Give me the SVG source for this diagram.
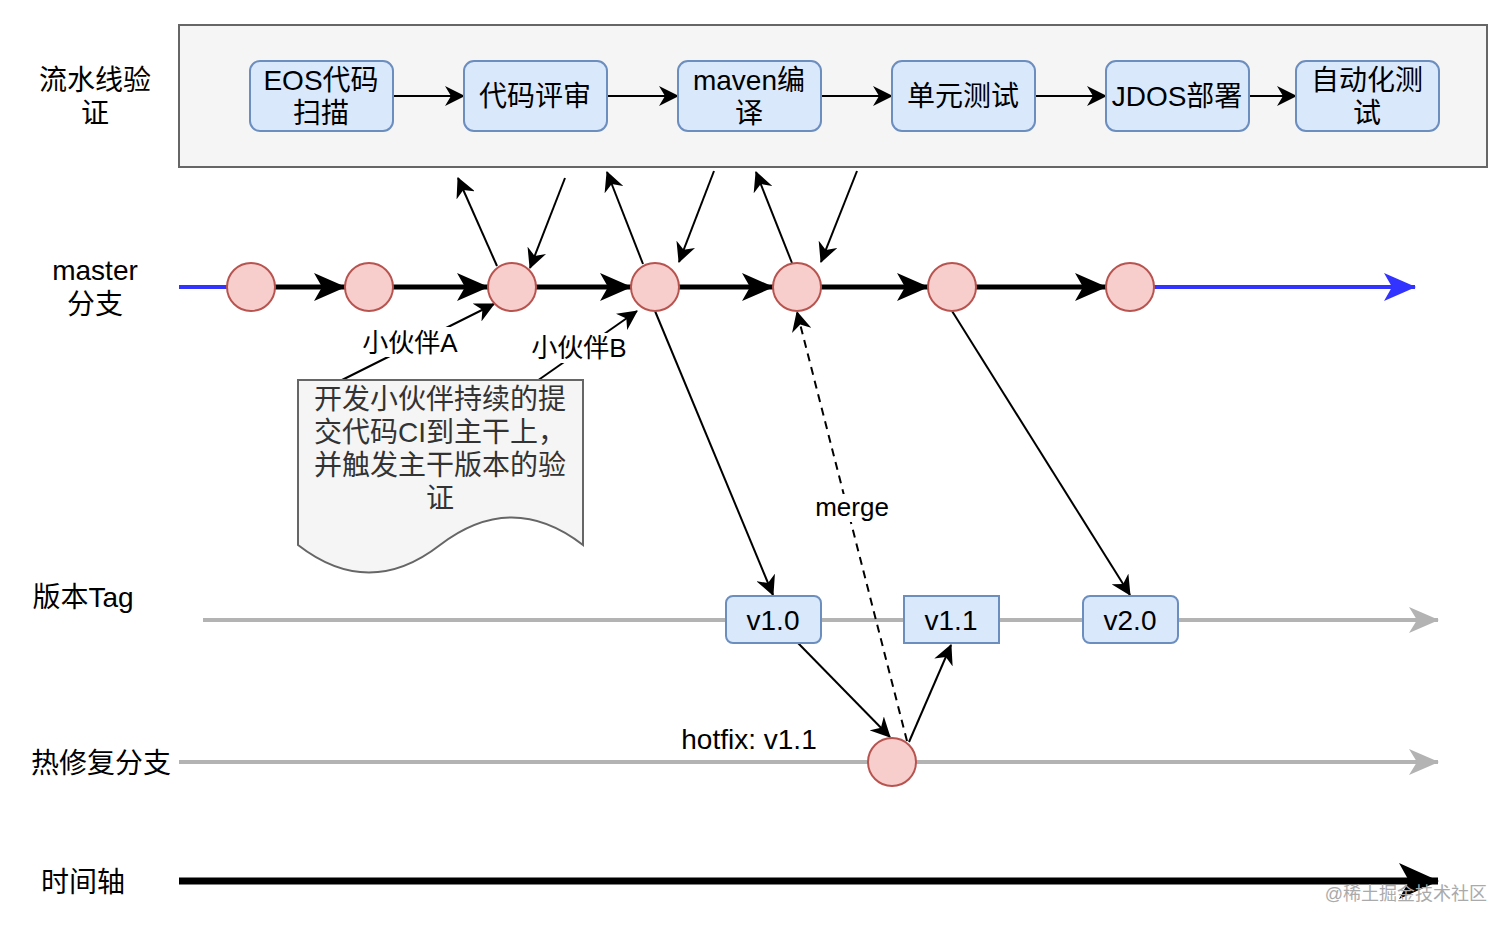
<svg xmlns="http://www.w3.org/2000/svg" width="1512" height="930" viewBox="0 0 1512 930">
<style>
text{font-family:"Liberation Sans","Noto Sans CJK SC",sans-serif;fill:#000;}
.lbl{font-size:28px;text-anchor:middle;}
.box{fill:#dae8fc;stroke:#6c8ebf;stroke-width:2;}
.bt{font-size:28px;text-anchor:middle;}
.commit{fill:#f8cecc;stroke:#b85450;stroke-width:2;}
.thin{stroke:#000;stroke-width:2;fill:none;}
.thick{stroke:#000;stroke-width:5;fill:none;}
.gray{stroke:#b3b3b3;stroke-width:4;fill:none;}
.small{font-size:26px;text-anchor:middle;}
</style>
<defs>
<marker id="a" markerUnits="userSpaceOnUse" viewBox="0 0 20 20" markerWidth="20" markerHeight="20" refX="19" refY="10" orient="auto"><path d="M0,0 L20,10 L0,20 L6,10 z" fill="#000"/></marker>
<marker id="ab" markerUnits="userSpaceOnUse" viewBox="0 0 32 28" markerWidth="32" markerHeight="28" refX="31" refY="14" orient="auto"><path d="M0,0 L32,14 L0,28 L8,14 z" fill="#000"/></marker>
<marker id="abl" markerUnits="userSpaceOnUse" viewBox="0 0 32 28" markerWidth="32" markerHeight="28" refX="31" refY="14" orient="auto"><path d="M0,0 L32,14 L0,28 L8,14 z" fill="#3333ff"/></marker>
<marker id="ag" markerUnits="userSpaceOnUse" viewBox="0 0 30 26" markerWidth="30" markerHeight="26" refX="29" refY="13" orient="auto"><path d="M0,0 L30,13 L0,26 L8,13 z" fill="#b3b3b3"/></marker>
<marker id="at" markerUnits="userSpaceOnUse" viewBox="0 0 40 36" markerWidth="40" markerHeight="36" refX="39" refY="18" orient="auto"><path d="M0,0 L40,18 L0,36 L10,18 z" fill="#000"/></marker>
</defs>

<rect x="0" y="0" width="1512" height="930" fill="#fff"/>

<!-- left labels -->
<g id="labels">
<text class="lbl" x="95" y="90">流水线验</text>
<text class="lbl" x="95" y="123">证</text>
<text class="lbl" x="95" y="280">master</text>
<text class="lbl" x="95" y="314">分支</text>
<text class="lbl" x="83" y="607">版本Tag</text>
<text class="lbl" x="101" y="773">热修复分支</text>
<text class="lbl" x="83" y="892">时间轴</text>
</g>

<!-- pipeline container -->
<g id="pipeline">
<rect x="179" y="25" width="1308" height="142" fill="#f5f5f5" stroke="#666" stroke-width="2"/>
</g>

<g id="connectors">
<!-- pipeline arrows -->
<line class="thin" x1="393" y1="96" x2="464" y2="96" marker-end="url(#a)"/>
<line class="thin" x1="607" y1="96" x2="678" y2="96" marker-end="url(#a)"/>
<line class="thin" x1="821" y1="96" x2="892" y2="96" marker-end="url(#a)"/>
<line class="thin" x1="1035" y1="96" x2="1106" y2="96" marker-end="url(#a)"/>
<line class="thin" x1="1249" y1="96" x2="1296" y2="96" marker-end="url(#a)"/>

<!-- master line -->
<line x1="179" y1="287" x2="227" y2="287" stroke="#3333ff" stroke-width="4"/>
<line class="thick" x1="275" y1="287" x2="345" y2="287" marker-end="url(#ab)"/>
<line class="thick" x1="393" y1="287" x2="488" y2="287" marker-end="url(#ab)"/>
<line class="thick" x1="536" y1="287" x2="631" y2="287" marker-end="url(#ab)"/>
<line class="thick" x1="679" y1="287" x2="773" y2="287" marker-end="url(#ab)"/>
<line class="thick" x1="821" y1="287" x2="928" y2="287" marker-end="url(#ab)"/>
<line class="thick" x1="976" y1="287" x2="1106" y2="287" marker-end="url(#ab)"/>
<line x1="1154" y1="287" x2="1415" y2="287" stroke="#3333ff" stroke-width="4" marker-end="url(#abl)"/>

<!-- pipeline trigger arrows -->
<line class="thin" x1="497" y1="266" x2="458" y2="178" marker-end="url(#a)"/>
<line class="thin" x1="565" y1="178" x2="530" y2="268" marker-end="url(#a)"/>
<line class="thin" x1="643" y1="264" x2="607" y2="172" marker-end="url(#a)"/>
<line class="thin" x1="714" y1="171" x2="679" y2="262" marker-end="url(#a)"/>
<line class="thin" x1="792" y1="263" x2="756" y2="172" marker-end="url(#a)"/>
<line class="thin" x1="857" y1="171" x2="821" y2="262" marker-end="url(#a)"/>

<!-- developer commits -->
<line class="thin" x1="340" y1="381" x2="494" y2="304" marker-end="url(#a)"/>
<line class="thin" x1="537" y1="381" x2="637" y2="311" marker-end="url(#a)"/>

<!-- release tags -->
<line class="thin" x1="655" y1="311" x2="773" y2="595" marker-end="url(#a)"/>
<line class="thin" x1="952" y1="311" x2="1130" y2="595" marker-end="url(#a)"/>

<!-- tag line / hotfix line -->
<line class="gray" x1="203" y1="620" x2="1438" y2="620" marker-end="url(#ag)"/>
<line class="gray" x1="179" y1="762" x2="1438" y2="762" marker-end="url(#ag)"/>

<!-- hotfix arrows -->
<line class="thin" x1="798" y1="643" x2="890" y2="737" marker-end="url(#a)"/>
<line class="thin" x1="909" y1="742" x2="951" y2="645" marker-end="url(#a)"/>
<line class="thin" x1="907" y1="741" x2="797" y2="312" stroke-dasharray="8,6" marker-end="url(#a)"/>

<!-- time axis -->
<line x1="179" y1="881" x2="1438" y2="881" stroke="#000" stroke-width="7" marker-end="url(#at)"/>

<!-- edge labels -->
<rect x="360" y="327" width="100" height="30" fill="#fff"/>
<text class="small" x="410" y="352">小伙伴A</text>
<rect x="529" y="333" width="100" height="30" fill="#fff"/>
<text class="small" x="579" y="357">小伙伴B</text>
<rect x="814" y="494" width="77" height="28" fill="#fff"/>
<text class="small" x="852" y="516">merge</text>
</g>

<!-- pipeline nodes -->
<g id="eos"><rect class="box" x="250" y="61" width="143" height="70" rx="10"/><text class="bt" x="321" y="90">EOS代码</text><text class="bt" x="321" y="123">扫描</text></g>
<g id="review"><rect class="box" x="464" y="61" width="143" height="70" rx="10"/><text class="bt" x="535" y="106">代码评审</text></g>
<g id="maven"><rect class="box" x="678" y="61" width="143" height="70" rx="10"/><text class="bt" x="749" y="90">maven编</text><text class="bt" x="749" y="123">译</text></g>
<g id="unittest"><rect class="box" x="892" y="61" width="143" height="70" rx="10"/><text class="bt" x="963" y="106">单元测试</text></g>
<g id="jdos"><rect class="box" x="1106" y="61" width="143" height="70" rx="10"/><text class="bt" x="1177" y="106">JDOS部署</text></g>
<g id="autotest"><rect class="box" x="1296" y="61" width="143" height="70" rx="10"/><text class="bt" x="1367" y="90">自动化测</text><text class="bt" x="1367" y="123">试</text></g>

<!-- master commits -->
<g id="c1"><circle class="commit" cx="251" cy="287" r="24"/></g>
<g id="c2"><circle class="commit" cx="369" cy="287" r="24"/></g>
<g id="c3"><circle class="commit" cx="512" cy="287" r="24"/></g>
<g id="c4"><circle class="commit" cx="655" cy="287" r="24"/></g>
<g id="c5"><circle class="commit" cx="797" cy="287" r="24"/></g>
<g id="c6"><circle class="commit" cx="952" cy="287" r="24"/></g>
<g id="c7"><circle class="commit" cx="1130" cy="287" r="24"/></g>

<!-- note -->
<g id="note">
<path d="M298,380 H583 V545 Q512,490 440,545 Q369,600 298,545 Z" fill="#f5f5f5" stroke="#666" stroke-width="2"/>
<text class="bt" x="440" y="409" style="fill:#333">开发小伙伴持续的提</text>
<text class="bt" x="440" y="442" style="fill:#333">交代码CI到主干上，</text>
<text class="bt" x="440" y="475" style="fill:#333">并触发主干版本的验</text>
<text class="bt" x="440" y="508" style="fill:#333">证</text>
</g>

<!-- tags -->
<g id="v10"><rect class="box" x="726" y="596" width="95" height="47" rx="7"/><text class="bt" x="773" y="630">v1.0</text></g>
<g id="v11"><rect class="box" x="904" y="596" width="95" height="47"/><text class="bt" x="951" y="630">v1.1</text></g>
<g id="v20"><rect class="box" x="1083" y="596" width="95" height="47" rx="7"/><text class="bt" x="1130" y="630">v2.0</text></g>

<!-- hotfix -->
<g id="hotfix">
<circle class="commit" cx="892" cy="762" r="24"/>
<text class="bt" x="749" y="749">hotfix: v1.1</text>
</g>

<text x="1487" y="900" style="font-size:18px;fill:#aaa;text-anchor:end">@稀土掘金技术社区</text>
</svg>
